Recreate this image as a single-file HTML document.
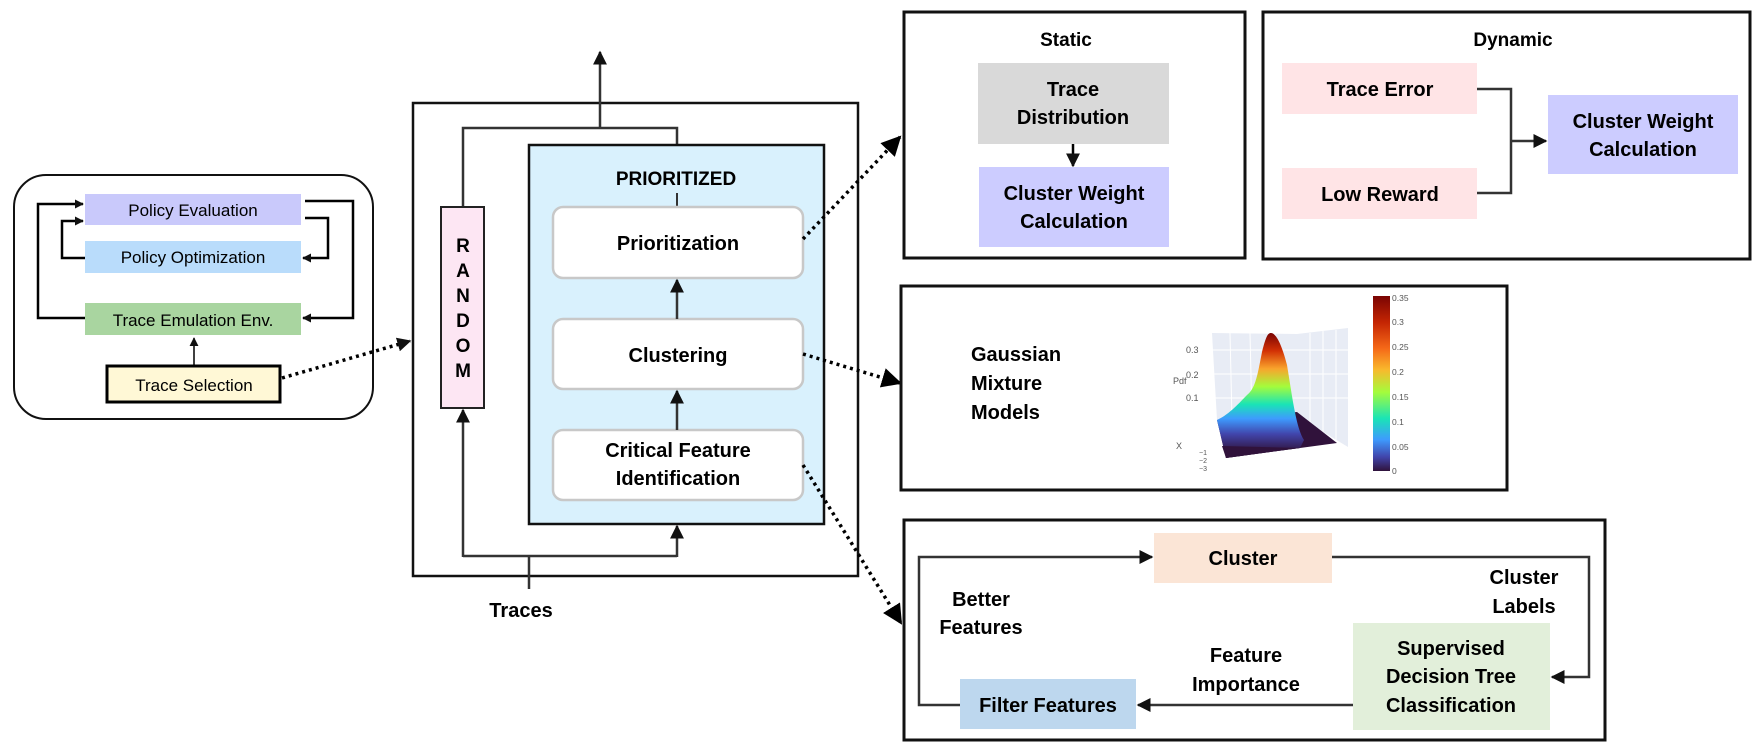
<!DOCTYPE html>
<html><head><meta charset="utf-8"><style>
html,body{margin:0;padding:0;background:#fff;}
svg{display:block;font-family:"Liberation Sans",Arial,sans-serif;}
.b{font-weight:bold;}
</style></head><body>
<svg width="1763" height="751" viewBox="0 0 1763 751" xmlns="http://www.w3.org/2000/svg">
<defs>
<marker id="ah" viewBox="0 0 10 10" refX="9" refY="5" markerWidth="9" markerHeight="9" markerUnits="userSpaceOnUse" orient="auto"><path d="M0,0 L10,5 L0,10 z" fill="#111"/></marker>
<marker id="ah2" viewBox="0 0 10 10" refX="9" refY="5" markerWidth="14" markerHeight="14" markerUnits="userSpaceOnUse" orient="auto"><path d="M0,0 L10,5 L0,10 z" fill="#111"/></marker>
<marker id="ah3" viewBox="0 0 10 10" refX="9" refY="5" markerWidth="20" markerHeight="20" markerUnits="userSpaceOnUse" orient="auto"><path d="M0,0 L10,5 L0,10 z" fill="#000"/></marker>
<linearGradient id="cb" x1="0" y1="0" x2="0" y2="1">
<stop offset="0" stop-color="#7a0403"/><stop offset="0.15" stop-color="#c42503"/><stop offset="0.3" stop-color="#f56918"/><stop offset="0.42" stop-color="#f9b82c"/><stop offset="0.55" stop-color="#a4fc3c"/><stop offset="0.7" stop-color="#1ae4b6"/><stop offset="0.82" stop-color="#3e9bfe"/><stop offset="0.92" stop-color="#4145ab"/><stop offset="1" stop-color="#30123b"/></linearGradient>
<linearGradient id="sf" x1="0" y1="333" x2="0" y2="452" gradientUnits="userSpaceOnUse">
<stop offset="0" stop-color="#7a0403"/><stop offset="0.15" stop-color="#d23105"/><stop offset="0.3" stop-color="#f9a42c"/><stop offset="0.45" stop-color="#a4fc3c"/><stop offset="0.6" stop-color="#1ae4b6"/><stop offset="0.72" stop-color="#3e9bfe"/><stop offset="0.85" stop-color="#4145ab"/><stop offset="1" stop-color="#30123b"/></linearGradient>
</defs>

<!-- LEFT PANEL -->
<rect x="14" y="175" width="359" height="244" rx="32" fill="#fff" stroke="#111" stroke-width="2"/>
<rect x="85" y="194" width="216" height="31" fill="#c9c9fb"/>
<text x="193" y="216" font-size="17" text-anchor="middle">Policy Evaluation</text>
<rect x="85" y="241" width="216" height="32" fill="#b9dcfb"/>
<text x="193" y="263" font-size="17" text-anchor="middle">Policy Optimization</text>
<rect x="85" y="303" width="216" height="32" fill="#a9d5a0"/>
<text x="193" y="326" font-size="17" text-anchor="middle">Trace Emulation Env.</text>
<rect x="107" y="366" width="173" height="36" fill="#fff8d6" stroke="#000" stroke-width="3"/>
<text x="194" y="391" font-size="17" text-anchor="middle">Trace Selection</text>
<g fill="none" stroke="#000" stroke-width="2.5">
<polyline points="85,318 38,318 38,204 83,204" marker-end="url(#ah)"/>
<polyline points="85,258 62,258 62,221 83,221" marker-end="url(#ah)"/>
<polyline points="305,201 353,201 353,318 303,318" marker-end="url(#ah)"/>
<polyline points="305,218 328,218 328,258 303,258" marker-end="url(#ah)"/>
</g>
<line x1="194" y1="365" x2="194" y2="338" stroke="#000" stroke-width="1.5" marker-end="url(#ah)"/>
<line x1="282" y1="378" x2="410" y2="341" stroke="#000" stroke-width="3.5" stroke-dasharray="3,4" marker-end="url(#ah2)"/>

<!-- MIDDLE -->
<rect x="413" y="103" width="445" height="473" fill="#fff" stroke="#111" stroke-width="2.5"/>
<line x1="600" y1="129" x2="600" y2="52" stroke="#333" stroke-width="2.5" marker-end="url(#ah2)"/>
<polyline points="463,207 463,128 677,128 677,145" fill="none" stroke="#333" stroke-width="2.5"/>
<rect x="529" y="145" width="295" height="379" fill="#d9f1fd" stroke="#111" stroke-width="2.5"/>
<text x="676" y="185" font-size="19" class="b" text-anchor="middle">PRIORITIZED</text>
<line x1="677" y1="193" x2="677" y2="207" stroke="#333" stroke-width="2"/>
<rect x="553" y="207" width="250" height="71" rx="10" fill="#fff" stroke="#c8c8c8" stroke-width="2.5"/>
<text x="678" y="250" font-size="20" class="b" text-anchor="middle">Prioritization</text>
<rect x="553" y="319" width="250" height="70" rx="10" fill="#fff" stroke="#c8c8c8" stroke-width="2.5"/>
<text x="678" y="362" font-size="20" class="b" text-anchor="middle">Clustering</text>
<rect x="553" y="430" width="250" height="70" rx="10" fill="#fff" stroke="#c8c8c8" stroke-width="2.5"/>
<text x="678" y="457" font-size="20" class="b" text-anchor="middle">Critical Feature</text>
<text x="678" y="485" font-size="20" class="b" text-anchor="middle">Identification</text>
<line x1="677" y1="319" x2="677" y2="280" stroke="#333" stroke-width="2.5" marker-end="url(#ah2)"/>
<line x1="677" y1="430" x2="677" y2="391" stroke="#333" stroke-width="2.5" marker-end="url(#ah2)"/>
<rect x="441" y="207" width="43" height="201" fill="#fde6f3" stroke="#222" stroke-width="2"/>
<g font-size="19" class="b" text-anchor="middle">
<text x="463" y="252">R</text><text x="463" y="277">A</text><text x="463" y="302">N</text><text x="463" y="327">D</text><text x="463" y="352">O</text><text x="463" y="377">M</text>
</g>
<line x1="529" y1="589" x2="529" y2="556" stroke="#333" stroke-width="2.5"/>
<polyline points="463,556 677,556" fill="none" stroke="#333" stroke-width="2.5"/>
<line x1="463" y1="557" x2="463" y2="410" stroke="#333" stroke-width="2.5" marker-end="url(#ah2)"/>
<line x1="677" y1="557" x2="677" y2="526" stroke="#333" stroke-width="2.5" marker-end="url(#ah2)"/>
<text x="521" y="617" font-size="20" class="b" text-anchor="middle">Traces</text>
<line x1="803" y1="239" x2="900" y2="137" stroke="#000" stroke-width="3.5" stroke-dasharray="3,4" marker-end="url(#ah3)"/>
<line x1="803" y1="354" x2="900" y2="383" stroke="#000" stroke-width="3.5" stroke-dasharray="3,4" marker-end="url(#ah3)"/>
<line x1="803" y1="465" x2="901" y2="623" stroke="#000" stroke-width="3.5" stroke-dasharray="3,4" marker-end="url(#ah3)"/>

<!-- STATIC -->
<rect x="904" y="12" width="341" height="246" fill="#fff" stroke="#111" stroke-width="3"/>
<text x="1066" y="46" font-size="19" class="b" text-anchor="middle">Static</text>
<rect x="978" y="63" width="191" height="81" fill="#d9d9d9"/>
<text x="1073" y="96" font-size="20" class="b" text-anchor="middle">Trace</text>
<text x="1073" y="124" font-size="20" class="b" text-anchor="middle">Distribution</text>
<line x1="1073" y1="144" x2="1073" y2="166" stroke="#000" stroke-width="2.5" marker-end="url(#ah2)"/>
<rect x="979" y="167" width="190" height="80" fill="#ccccff"/>
<text x="1074" y="200" font-size="20" class="b" text-anchor="middle">Cluster Weight</text>
<text x="1074" y="228" font-size="20" class="b" text-anchor="middle">Calculation</text>

<!-- DYNAMIC -->
<rect x="1263" y="12" width="487" height="247" fill="#fff" stroke="#111" stroke-width="3"/>
<text x="1513" y="46" font-size="19" class="b" text-anchor="middle">Dynamic</text>
<rect x="1282" y="63" width="195" height="51" fill="#ffe4e6"/>
<text x="1380" y="96" font-size="20" class="b" text-anchor="middle">Trace Error</text>
<rect x="1282" y="168" width="195" height="51" fill="#ffe4e6"/>
<text x="1380" y="201" font-size="20" class="b" text-anchor="middle">Low Reward</text>
<polyline points="1477,89 1511,89 1511,193 1477,193" fill="none" stroke="#333" stroke-width="2.5"/>
<line x1="1511" y1="141" x2="1546" y2="141" stroke="#333" stroke-width="2.5" marker-end="url(#ah2)"/>
<rect x="1548" y="95" width="190" height="79" fill="#ccccff"/>
<text x="1643" y="128" font-size="20" class="b" text-anchor="middle">Cluster Weight</text>
<text x="1643" y="156" font-size="20" class="b" text-anchor="middle">Calculation</text>

<!-- GMM -->
<rect x="901" y="286" width="606" height="204" fill="#fff" stroke="#111" stroke-width="3"/>
<text x="971" y="361" font-size="20" class="b">Gaussian</text>
<text x="971" y="390" font-size="20" class="b">Mixture</text>
<text x="971" y="419" font-size="20" class="b">Models</text>
<polygon points="1212,333 1297,334 1348,328 1348,447 1300,418 1217,420" fill="#e8ecf5"/>
<g stroke="#ffffff" stroke-width="1">
<line x1="1230" y1="333" x2="1232" y2="420"/><line x1="1250" y1="333" x2="1252" y2="420"/><line x1="1275" y1="333" x2="1276" y2="420"/>
<line x1="1310" y1="333" x2="1310" y2="430"/><line x1="1323" y1="331" x2="1323" y2="436"/><line x1="1336" y1="330" x2="1336" y2="441"/>
<line x1="1212" y1="350" x2="1348" y2="350"/><line x1="1212" y1="374" x2="1348" y2="374"/><line x1="1212" y1="398" x2="1348" y2="398"/>
</g>
<polygon points="1217,420 1297,412 1337,443 1300,448 1226,458" fill="#30123b"/>
<path d="M1217,420 C1230,414 1240,402 1247,395 C1256,388 1258,372 1262,352 C1266,336 1268,333 1271,333 C1276,333 1282,345 1287,365 C1292,395 1296,428 1304,440 L1300,448 L1226,458 Z" fill="url(#sf)"/>
<path d="M1222,446 L1300,448 L1226,458 Z" fill="#30123b"/>
<g font-size="9" fill="#555">
<text x="1186" y="353">0.3</text><text x="1186" y="378">0.2</text><text x="1186" y="401">0.1</text><text x="1173" y="384">Pdf</text><text x="1176" y="449">X</text>
<text x="1199" y="455" font-size="7">−1</text><text x="1199" y="463" font-size="7">−2</text><text x="1199" y="471" font-size="7">−3</text>
</g>
<rect x="1373" y="296" width="17" height="175" fill="url(#cb)"/>
<g font-size="8.5" fill="#555">
<text x="1392" y="301">0.35</text><text x="1392" y="325">0.3</text><text x="1392" y="350">0.25</text><text x="1392" y="375">0.2</text><text x="1392" y="400">0.15</text><text x="1392" y="425">0.1</text><text x="1392" y="450">0.05</text><text x="1392" y="474">0</text>
</g>

<!-- BOTTOM -->
<rect x="904" y="520" width="701" height="220" fill="#fff" stroke="#111" stroke-width="3"/>
<rect x="1154" y="533" width="178" height="50" fill="#fbe5d6"/>
<text x="1243" y="565" font-size="20" class="b" text-anchor="middle">Cluster</text>
<rect x="1353" y="623" width="197" height="107" fill="#e2efda"/>
<text x="1451" y="655" font-size="20" class="b" text-anchor="middle">Supervised</text>
<text x="1451" y="683" font-size="20" class="b" text-anchor="middle">Decision Tree</text>
<text x="1451" y="712" font-size="20" class="b" text-anchor="middle">Classification</text>
<rect x="960" y="679" width="176" height="50" fill="#bdd7ee"/>
<text x="1048" y="712" font-size="20" class="b" text-anchor="middle">Filter Features</text>
<polyline points="1332,557 1589,557 1589,677 1552,677" fill="none" stroke="#333" stroke-width="2.5" marker-end="url(#ah2)"/>
<line x1="1353" y1="705" x2="1138" y2="705" stroke="#333" stroke-width="2.5" marker-end="url(#ah2)"/>
<polyline points="960,705 919,705 919,557 1152,557" fill="none" stroke="#333" stroke-width="2.5" marker-end="url(#ah2)"/>
<text x="1524" y="584" font-size="20" class="b" text-anchor="middle">Cluster</text>
<text x="1524" y="613" font-size="20" class="b" text-anchor="middle">Labels</text>
<text x="981" y="606" font-size="20" class="b" text-anchor="middle">Better</text>
<text x="981" y="634" font-size="20" class="b" text-anchor="middle">Features</text>
<text x="1246" y="662" font-size="20" class="b" text-anchor="middle">Feature</text>
<text x="1246" y="691" font-size="20" class="b" text-anchor="middle">Importance</text>
</svg>
</body></html>
